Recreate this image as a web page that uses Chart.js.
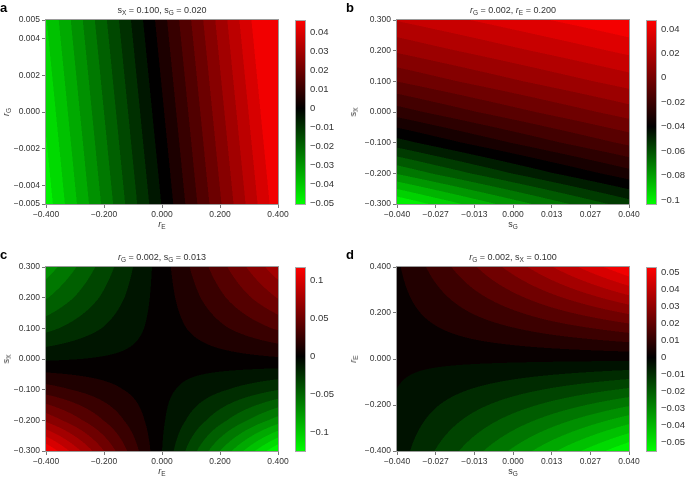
<!DOCTYPE html>
<html>
<head>
<meta charset="utf-8">
<script src="https://cdn.jsdelivr.net/npm/chart.js@4.4.1/dist/chart.umd.min.js"></script>
<style>
html, body { margin: 0; padding: 0; background: #fff; overflow: hidden; }
#wrap { position: relative; width: 685px; height: 478px; font-family: 'Liberation Sans', Arial, sans-serif; color: #333; }
canvas { position: absolute; }
.t { position: absolute; white-space: nowrap; font-size: 9px; line-height: 10px; }
.t sub { font-size: 6.5px; vertical-align: -2px; line-height: 0; }
.lab { font-weight: bold; font-size: 13px; color: #000; line-height: 13px; }
</style>
</head>
<body>
<div id="wrap"></div>
<script>
// axis ticks
var rETicks = [-0.4, -0.2, 0, 0.2, 0.4];
var rGTicks = [-0.005, -0.004, -0.002, 0, 0.002, 0.004, 0.005];
var sGTicks = [-0.04, -0.02667, -0.01333, 0, 0.01333, 0.02667, 0.04];
var sXTicks = [-0.3, -0.2, -0.1, 0, 0.1, 0.2, 0.3];

// colorbar ticks
var cbTicksA = [0.04, 0.03, 0.02, 0.01, 0, -0.01, -0.02, -0.03, -0.04, -0.05];
var cbTicksB = [0.04, 0.02, 0, -0.02, -0.04, -0.06, -0.08, -0.1];
var cbTicksC = [0.1, 0.05, 0, -0.05, -0.1];
var cbTicksD = [0.05, 0.04, 0.03, 0.02, 0.01, 0, -0.01, -0.02, -0.03, -0.04, -0.05];

// values, rows go from bottom to top
// a: rows rG = -0.005, 0, 0.005 ; cols rE
var rGRowsA = [-0.005, 0, 0.005];
var zA = [
    [-0.0489, -0.0254, -0.0019, 0.0216, 0.0451],
    [-0.0452, -0.0217, 0.0018, 0.0253, 0.0488],
    [-0.0415, -0.0180, 0.0055, 0.0290, 0.0525]
];
// b: rows sX ; cols sG
var zB = [
    [-0.1040, -0.0948, -0.0860, -0.0777, -0.0697, -0.0620, -0.0547],
    [-0.0730, -0.0652, -0.0578, -0.0507, -0.0439, -0.0375, -0.0313],
    [-0.0468, -0.0402, -0.0339, -0.0279, -0.0221, -0.0166, -0.0114],
    [-0.0246, -0.0190, -0.0136, -0.0085, -0.0036, 0.0011, 0.0057],
    [-0.0055, -0.0007, 0.0039, 0.0083, 0.0126, 0.0167, 0.0207],
    [0.0107, 0.0149, 0.0189, 0.0229, 0.0267, 0.0305, 0.0342],
    [0.0251, 0.0289, 0.0326, 0.0363, 0.0399, 0.0434, 0.0470]
];
// c: rows sX ; cols rE
var zC = [
    [0.1177, 0.0568, -0.0040, -0.0648, -0.1256],
    [0.0662, 0.0320, -0.0022, -0.0364, -0.0707],
    [0.0261, 0.0126, -0.0009, -0.0144, -0.0279],
    [-0.0059, -0.0028, 0.0002, 0.0032, 0.0063],
    [-0.0320, -0.0155, 0.0011, 0.0177, 0.0342],
    [-0.0538, -0.0260, 0.0018, 0.0296, 0.0575],
    [-0.0723, -0.0349, 0.0024, 0.0399, 0.0772]
];
// d: rows rE ; cols sG
var zD = [
    [-0.0037, -0.0123, -0.0209, -0.0295, -0.0382, -0.0468, -0.0555],
    [-0.0018, -0.0062, -0.0105, -0.0148, -0.0191, -0.0234, -0.0277],
    [0, 0, 0, 0, 0, 0, 0],
    [0.0018, 0.0059, 0.0101, 0.0142, 0.0184, 0.0225, 0.0267],
    [0.0035, 0.0118, 0.0201, 0.0284, 0.0367, 0.0450, 0.0533]
];

// colour range of each bar (min, max, value shown as black)
var vMin = [-0.051, -0.104, -0.1257, -0.0556];
var vMax = [0.0466, 0.0473, 0.1176, 0.0533];
var vMid = [0, -0.04, 0, 0];
var nBands = 20;

var FONT = "'Liberation Sans', Arial, sans-serif";

var panels = [
    { key: 'a', left: 0, top: 0, cb: 295, xt: rETicks, yt: rGTicks, xg: rETicks, yg: rGRowsA, z: zA, cbt: cbTicksA,
      title: 's<sub>X</sub> = 0.100, s<sub>G</sub> = 0.020', xl: '<i>r</i><sub>E</sub>', yl: '<i>r</i><sub>G</sub>' },
    { key: 'b', left: 351, top: 0, cb: 646, xt: sGTicks, yt: sXTicks, xg: sGTicks, yg: sXTicks, z: zB, cbt: cbTicksB,
      title: '<i>r</i><sub>G</sub> = 0.002, <i>r</i><sub>E</sub> = 0.200', xl: 's<sub>G</sub>', yl: 's<sub>X</sub>' },
    { key: 'c', left: 0, top: 247, cb: 295, xt: rETicks, yt: sXTicks, xg: rETicks, yg: sXTicks, z: zC, cbt: cbTicksC,
      title: '<i>r</i><sub>G</sub> = 0.002, s<sub>G</sub> = 0.013', xl: '<i>r</i><sub>E</sub>', yl: 's<sub>X</sub>' },
    { key: 'd', left: 351, top: 247, cb: 646, xt: sGTicks, yt: rETicks, xg: sGTicks, yg: rETicks, z: zD, cbt: cbTicksD,
      title: '<i>r</i><sub>G</sub> = 0.002, s<sub>X</sub> = 0.100', xl: 's<sub>G</sub>', yl: '<i>r</i><sub>E</sub>' }
];

function minus(s) {
    return s.replace('-', '\u2212');
}

function cmap(v, i) {
    var lo = vMin[i], hi = vMax[i], mid = vMid[i];
    var t;
    if (v >= mid) {
        t = Math.min(1, (v - mid) / (hi - mid));
        return [255 * t, 0, 0];
    }
    t = Math.min(1, (mid - v) / (mid - lo));
    return [0, 255 * t, 0];
}

function bandColor(v, i) {
    var lo = vMin[i], hi = vMax[i];
    var k = Math.floor((v - lo) / (hi - lo) * nBands);
    if (k < 0) k = 0;
    if (k > nBands - 1) k = nBands - 1;
    return cmap(lo + (k + 0.5) * (hi - lo) / nBands, i);
}

function findCell(g, v) {
    for (var i = 0; i < g.length - 2; i++) {
        if (v < g[i + 1]) return i;
    }
    return g.length - 2;
}

function bilinear(p, x, y) {
    var i = findCell(p.xg, x), j = findCell(p.yg, y);
    var tx = (x - p.xg[i]) / (p.xg[i + 1] - p.xg[i]);
    var ty = (y - p.yg[j]) / (p.yg[j + 1] - p.yg[j]);
    var z = p.z;
    var a = z[j][i] * (1 - tx) + z[j][i + 1] * tx;
    var b = z[j + 1][i] * (1 - tx) + z[j + 1][i + 1] * tx;
    return a * (1 - ty) + b * ty;
}

var fieldPlugin = {
    id: 'field',
    beforeDatasetsDraw: function(chart, args, opts) {
        var p = panels[opts.idx];
        var a = chart.chartArea, xs = chart.scales.x, ys = chart.scales.y;
        var w = Math.round(a.right - a.left), h = Math.round(a.bottom - a.top);
        var img = chart.ctx.createImageData(w, h);
        var off = [0.25, 0.75];
        for (var j = 0; j < h; j++) {
            for (var i = 0; i < w; i++) {
                var r = 0, g = 0, b = 0;
                for (var sy = 0; sy < 2; sy++) {
                    var yv = ys.getValueForPixel(a.top + j + off[sy]);
                    for (var sx = 0; sx < 2; sx++) {
                        var xv = xs.getValueForPixel(a.left + i + off[sx]);
                        var c = bandColor(bilinear(p, xv, yv), opts.idx);
                        r += c[0]; g += c[1]; b += c[2];
                    }
                }
                var k = (j * w + i) * 4;
                img.data[k] = r / 4;
                img.data[k + 1] = g / 4;
                img.data[k + 2] = b / 4;
                img.data[k + 3] = 255;
            }
        }
        chart.ctx.putImageData(img, Math.round(a.left), Math.round(a.top));
    },
    afterDraw: function(chart) {
        var a = chart.chartArea, ctx = chart.ctx;
        ctx.save();
        ctx.strokeStyle = '#9a9a9a';
        ctx.lineWidth = 1;
        ctx.strokeRect(a.left - 0.5, a.top - 0.5, a.right - a.left + 1, a.bottom - a.top + 1);
        ctx.restore();
    }
};

var cbarPlugin = {
    id: 'cbar',
    beforeDatasetsDraw: function(chart, args, opts) {
        var i = opts.idx;
        var a = chart.chartArea, ys = chart.scales.y, ctx = chart.ctx;
        var yTop = ys.getPixelForValue(vMax[i]), yBot = ys.getPixelForValue(vMin[i]);
        var yMid = ys.getPixelForValue(vMid[i]);
        var grad = ctx.createLinearGradient(0, yTop, 0, yBot);
        grad.addColorStop(0, 'rgb(255,0,0)');
        grad.addColorStop((yMid - yTop) / (yBot - yTop), 'rgb(0,0,0)');
        grad.addColorStop(1, 'rgb(0,255,0)');
        ctx.save();
        ctx.fillStyle = grad;
        ctx.fillRect(a.left, yTop, a.right - a.left, yBot - yTop);
        ctx.strokeStyle = '#a8a8a8';
        ctx.lineWidth = 1;
        ctx.strokeRect(a.left + 0.5, yTop + 0.5, a.right - a.left - 1, yBot - yTop - 1);
        ctx.restore();
    }
};

var wrap = document.getElementById('wrap');

function addCanvas(left, top, w, h) {
    var cv = document.createElement('canvas');
    cv.width = w;
    cv.height = h;
    cv.style.left = left + 'px';
    cv.style.top = top + 'px';
    cv.style.width = w + 'px';
    cv.style.height = h + 'px';
    wrap.appendChild(cv);
    return cv;
}

function addText(html, x, y, cls, rotate) {
    var d = document.createElement('div');
    d.className = 't' + (cls ? ' ' + cls : '');
    d.innerHTML = html;
    d.style.left = x + 'px';
    d.style.top = y + 'px';
    if (rotate) {
        d.style.transform = 'translate(-50%, -50%) rotate(-90deg)';
    } else if (cls != 'lab') {
        d.style.transform = 'translateX(-50%)';
    }
    wrap.appendChild(d);
}

panels.forEach(function(p, idx) {
    var xt = p.xt, yt = p.yt;
    // main map
    new Chart(addCanvas(p.left, p.top, 300, 240), {
        type: 'scatter',
        data: { datasets: [] },
        options: {
            responsive: false,
            animation: false,
            devicePixelRatio: 1,
            events: [],
            layout: { padding: { left: 0, right: 22, top: 20, bottom: 0 } },
            plugins: { legend: { display: false }, tooltip: { enabled: false }, field: { idx: idx } },
            scales: {
                x: {
                    type: 'linear',
                    min: xt[0],
                    max: xt[xt.length - 1],
                    afterFit: function(s) { s.height = 36; },
                    afterBuildTicks: function(s) { s.ticks = xt.map(function(v) { return { value: v }; }); },
                    grid: { drawOnChartArea: false, drawTicks: true, tickLength: 4, color: '#777' },
                    border: { display: false },
                    ticks: {
                        autoSkip: false, maxRotation: 0, padding: 2, color: '#333',
                        font: { family: FONT, size: 8.5 },
                        callback: function(v) { return minus(v.toFixed(3)); }
                    }
                },
                y: {
                    type: 'linear',
                    min: yt[0],
                    max: yt[yt.length - 1],
                    afterFit: function(s) { s.width = 46; },
                    afterBuildTicks: function(s) { s.ticks = yt.map(function(v) { return { value: v }; }); },
                    grid: { drawOnChartArea: false, drawTicks: true, tickLength: 4, color: '#777' },
                    border: { display: false },
                    ticks: {
                        autoSkip: false, padding: 2, color: '#333',
                        font: { family: FONT, size: 8.5 },
                        callback: function(v) { return minus(v.toFixed(3)); }
                    }
                }
            }
        },
        plugins: [fieldPlugin]
    });

    // colour bar
    var cbt = p.cbt;
    new Chart(addCanvas(p.cb, p.top, 50, 240), {
        type: 'scatter',
        data: { datasets: [] },
        options: {
            responsive: false,
            animation: false,
            devicePixelRatio: 1,
            events: [],
            layout: { padding: { left: 0, right: 0, top: 20, bottom: 35 } },
            plugins: { legend: { display: false }, tooltip: { enabled: false }, cbar: { idx: idx } },
            scales: {
                x: { display: false },
                y: {
                    type: 'linear',
                    position: 'right',
                    min: vMin[idx],
                    max: vMax[idx],
                    afterFit: function(s) { s.width = 39; },
                    afterBuildTicks: function(s) { s.ticks = cbt.map(function(v) { return { value: v }; }); },
                    grid: { display: false, drawTicks: false },
                    border: { display: false },
                    ticks: {
                        autoSkip: false, padding: 4, color: '#333',
                        font: { family: FONT, size: 9.5 },
                        callback: function(v) { return minus(String(Math.round(v * 100) / 100)); }
                    }
                }
            }
        },
        plugins: [cbarPlugin]
    });

    // texts
    var cx = p.left + 46 + 116;
    addText(p.key, p.left === 0 ? 0 : 346, p.top + 1, 'lab');
    addText(p.title, cx, p.top + 5);
    addText(p.xl, cx, p.top + 219);
    addText(p.yl, p.left === 0 ? 6 : 353, p.top + 112, '', true);
});
</script>
</body>
</html>
